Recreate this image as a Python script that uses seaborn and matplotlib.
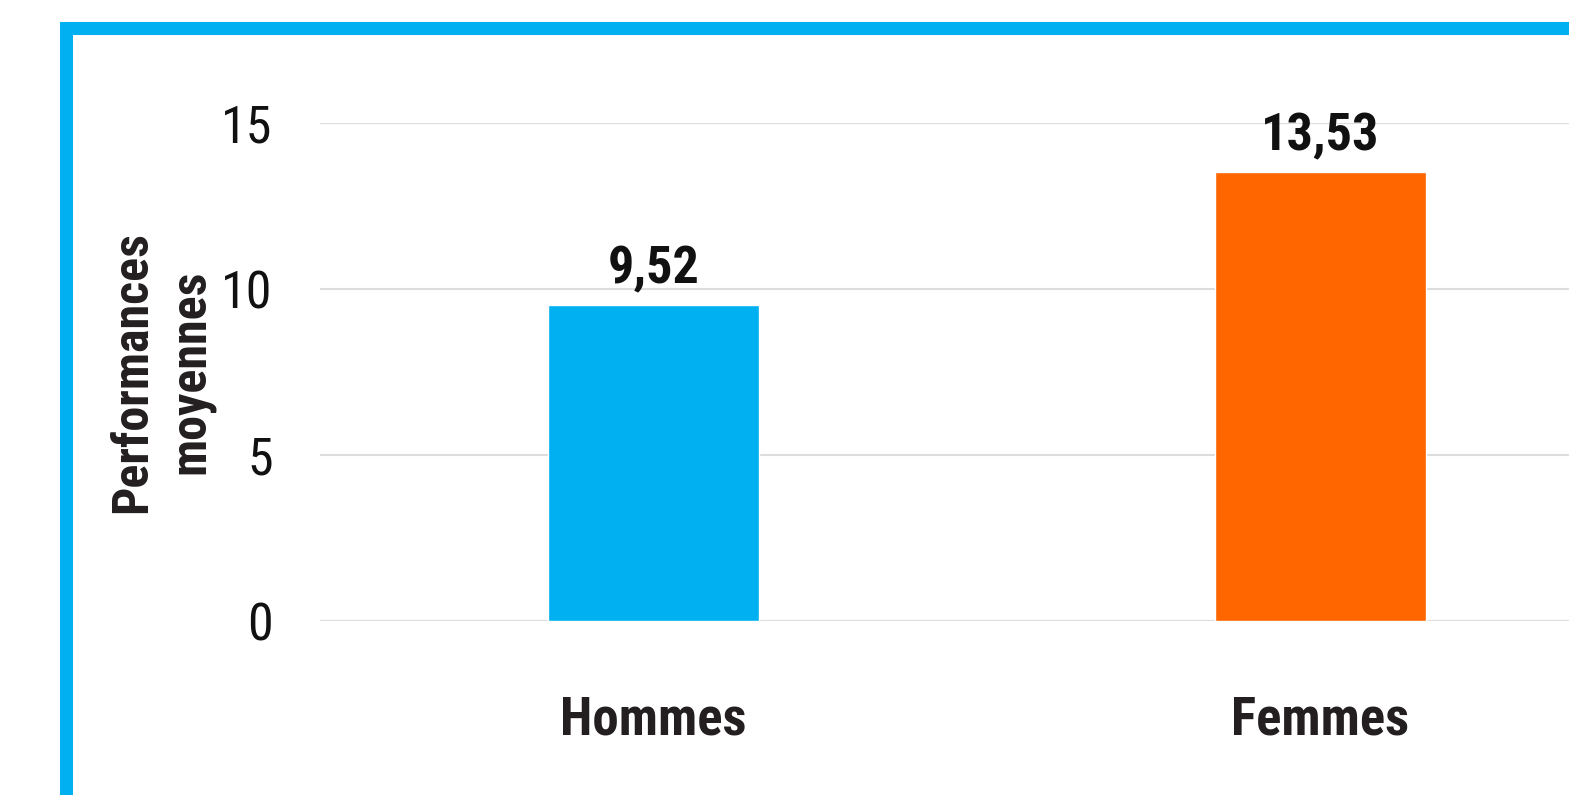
import matplotlib
matplotlib.use("Agg")
import matplotlib.pyplot as plt
from matplotlib import font_manager
from matplotlib.patches import Rectangle
import seaborn as sns
import pandas as pd

categories = ["Hommes", "Femmes"]
values = [9.52, 13.53]
value_labels = ["9,52", "13,53"]
colors = ["#00B0F0", "#FF6600"]
yticks = [0, 5, 10, 15]

sns.set_theme(style="white")
names = {f.name for f in font_manager.fontManager.ttflist}
fam = "DejaVu Sans"
for cand in ["Roboto Condensed", "Liberation Sans Narrow", "Open Sans Condensed"]:
    if cand in names:
        fam = cand
        break
plt.rcParams["font.family"] = [fam, "DejaVu Sans"]
plt.rcParams["font.stretch"] = "condensed"

W, H = 1569, 795
fig = plt.figure(figsize=(W / 100, H / 100), dpi=100)
x0, x1 = 320, 320 + 1334
ybot, ytop = 621, 122.7
ax = fig.add_axes([x0 / W, (H - ybot) / H, (x1 - x0) / W, (ybot - ytop) / H])

df = pd.DataFrame({"cat": categories, "val": values})
sns.barplot(data=df, x="cat", y="val", hue="cat", palette=colors, width=0.315,
            ax=ax, legend=False, saturation=1)
ax.set_xlim(-0.5, 1.5)
ax.set_ylim(0, 15)
ax.set_yticks(yticks)
ax.set_yticklabels([str(t) for t in yticks], fontsize=37.5, color="#111111")
ax.tick_params(axis="y", length=0, pad=34)
ax.tick_params(axis="x", length=0, pad=53)
for lbl in ax.get_xticklabels():
    lbl.set_fontsize(38)
    lbl.set_fontweight("bold")
    lbl.set_color("#231f20")
for s in ax.spines.values():
    s.set_visible(False)
ax.yaxis.grid(True, color="#dddddd", linewidth=1.5)
ax.set_axisbelow(True)
ax.set_xlabel("")
ax.set_ylabel("Performances\nmoyennes", fontsize=36, fontweight="bold",
              color="#231f20", linespacing=1.3)
ax.yaxis.set_label_coords(-0.079, 0.5)

for i, (v, t) in enumerate(zip(values, value_labels)):
    ax.text(i, v + 0.3, t, ha="center", va="bottom", fontsize=37.5, color="#111111",
            fontweight="bold", clip_on=False)

# blue frame (edge centred on the path: thickness 13 px)
fig.patches.append(Rectangle((65.5 / W, -0.1), 2, (H - 28) / H + 0.1,
                             transform=fig.transFigure, fill=False,
                             edgecolor="#00B0F0", linewidth=9.4, zorder=10))

fig.savefig("out.png", dpi=100)
